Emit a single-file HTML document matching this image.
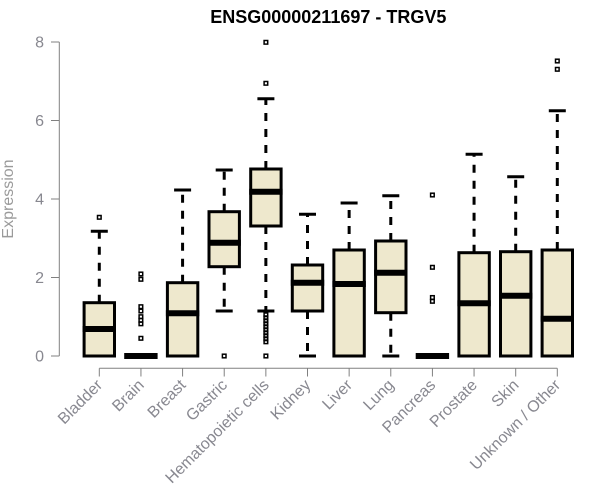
<!DOCTYPE html>
<html><head><meta charset="utf-8"><style>
html,body{margin:0;padding:0;background:#fff;}
svg{display:block;}
</style></head><body>
<svg width="600" height="500" viewBox="0 0 600 500" xmlns="http://www.w3.org/2000/svg" font-family="'Liberation Sans', Arial, sans-serif">
<rect width="600" height="500" fill="#fff"/>
<text x="328.3" y="23" text-anchor="middle" font-size="18" font-weight="bold" fill="#000">ENSG00000211697 - TRGV5</text>
<text transform="translate(13.2,199) rotate(-90)" text-anchor="middle" font-size="16" fill="#9a9a9a">Expression</text>
<g stroke="#808080" stroke-width="1" fill="none">
<line x1="59.3" y1="42" x2="59.3" y2="356"/>
<line x1="51" y1="42" x2="59.3" y2="42"/>
<line x1="51" y1="120.5" x2="59.3" y2="120.5"/>
<line x1="51" y1="199" x2="59.3" y2="199"/>
<line x1="51" y1="277.5" x2="59.3" y2="277.5"/>
<line x1="51" y1="356" x2="59.3" y2="356"/>
<line x1="99.3" y1="368.3" x2="557.3" y2="368.3"/>
<line x1="99.3" y1="368.3" x2="99.3" y2="376.5"/>
<line x1="140.94" y1="368.3" x2="140.94" y2="376.5"/>
<line x1="182.58" y1="368.3" x2="182.58" y2="376.5"/>
<line x1="224.22" y1="368.3" x2="224.22" y2="376.5"/>
<line x1="265.86" y1="368.3" x2="265.86" y2="376.5"/>
<line x1="307.5" y1="368.3" x2="307.5" y2="376.5"/>
<line x1="349.14" y1="368.3" x2="349.14" y2="376.5"/>
<line x1="390.78" y1="368.3" x2="390.78" y2="376.5"/>
<line x1="432.42" y1="368.3" x2="432.42" y2="376.5"/>
<line x1="474.06" y1="368.3" x2="474.06" y2="376.5"/>
<line x1="515.7" y1="368.3" x2="515.7" y2="376.5"/>
<line x1="557.3" y1="368.3" x2="557.3" y2="376.5"/>
</g>
<g font-size="16" fill="#888890" text-anchor="end">
<text x="44" y="47.5">8</text>
<text x="44" y="126">6</text>
<text x="44" y="204.5">4</text>
<text x="44" y="283">2</text>
<text x="44" y="361.5">0</text>
</g>
<g font-size="16" fill="#888890" text-anchor="end">
<text transform="translate(103.3,386) rotate(-45)">Bladder</text>
<text transform="translate(144.9,386) rotate(-45)">Brain</text>
<text transform="translate(186.6,386) rotate(-45)">Breast</text>
<text transform="translate(228.2,386) rotate(-45)">Gastric</text>
<text transform="translate(269.9,386) rotate(-45)">Hematopoietic cells</text>
<text transform="translate(311.5,386) rotate(-45)">Kidney</text>
<text transform="translate(353.1,386) rotate(-45)">Liver</text>
<text transform="translate(394.8,386) rotate(-45)">Lung</text>
<text transform="translate(436.4,386) rotate(-45)">Pancreas</text>
<text transform="translate(478.1,386) rotate(-45)">Prostate</text>
<text transform="translate(519.7,386) rotate(-45)">Skin</text>
<text transform="translate(561.3,386) rotate(-45)">Unknown / Other</text>
</g>

<!-- whiskers (dashed) -->
<g stroke="#000" stroke-width="3" stroke-dasharray="8 8" fill="none">
<line x1="99.3" y1="302.7" x2="99.3" y2="231.3"/>
<line x1="182.58" y1="282.7" x2="182.58" y2="190"/>
<line x1="224.22" y1="211.7" x2="224.22" y2="170"/>
<line x1="224.22" y1="266.7" x2="224.22" y2="311"/>
<line x1="265.86" y1="169" x2="265.86" y2="98.7"/>
<line x1="265.86" y1="226" x2="265.86" y2="311"/>
<line x1="307.5" y1="265" x2="307.5" y2="214.3"/>
<line x1="307.5" y1="311" x2="307.5" y2="356"/>
<line x1="349.14" y1="250" x2="349.14" y2="203"/>
<line x1="390.78" y1="241" x2="390.78" y2="195.7"/>
<line x1="390.78" y1="312.7" x2="390.78" y2="356"/>
<line x1="474.06" y1="252.7" x2="474.06" y2="154.3"/>
<line x1="515.7" y1="251.7" x2="515.7" y2="176.7"/>
<line x1="557.3" y1="250" x2="557.3" y2="110.7"/>
</g>
<!-- caps -->
<g stroke="#000" stroke-width="3" fill="none">
<line x1="90.8" y1="231.3" x2="107.8" y2="231.3"/>
<line x1="174.1" y1="190" x2="191.1" y2="190"/>
<line x1="215.7" y1="170" x2="232.7" y2="170"/>
<line x1="215.7" y1="311" x2="232.7" y2="311"/>
<line x1="257.4" y1="98.7" x2="274.4" y2="98.7"/>
<line x1="257.4" y1="311" x2="274.4" y2="311"/>
<line x1="299" y1="214.3" x2="316" y2="214.3"/>
<line x1="299" y1="356" x2="316" y2="356"/>
<line x1="340.6" y1="203" x2="357.6" y2="203"/>
<line x1="382.3" y1="195.7" x2="399.3" y2="195.7"/>
<line x1="382.3" y1="356" x2="399.3" y2="356"/>
<line x1="465.6" y1="154.3" x2="482.6" y2="154.3"/>
<line x1="507.2" y1="176.7" x2="524.2" y2="176.7"/>
<line x1="548.8" y1="110.7" x2="565.8" y2="110.7"/>
</g>
<!-- boxes -->
<g stroke="#000" stroke-width="3" fill="#EEE8CD">
<rect x="84.1" y="302.7" width="30.4" height="53.3"/>
<rect x="167.4" y="282.7" width="30.4" height="73.3"/>
<rect x="209" y="211.7" width="30.4" height="55"/>
<rect x="250.7" y="169" width="30.4" height="57"/>
<rect x="292.3" y="265" width="30.4" height="46"/>
<rect x="333.9" y="250" width="30.4" height="106"/>
<rect x="375.6" y="241" width="30.4" height="71.7"/>
<rect x="458.9" y="252.7" width="30.4" height="103.3"/>
<rect x="500.5" y="251.7" width="30.4" height="104.3"/>
<rect x="542.1" y="250" width="30.4" height="106"/>
</g>
<!-- medians -->
<g stroke="#000" stroke-width="6" fill="none">
<line x1="82.6" y1="329" x2="116" y2="329"/>
<line x1="124.2" y1="356" x2="157.6" y2="356"/>
<line x1="165.9" y1="313.3" x2="199.3" y2="313.3"/>
<line x1="207.5" y1="242.7" x2="240.9" y2="242.7"/>
<line x1="249.2" y1="191.7" x2="282.6" y2="191.7"/>
<line x1="290.8" y1="282.7" x2="324.2" y2="282.7"/>
<line x1="332.4" y1="284" x2="365.8" y2="284"/>
<line x1="374.1" y1="272.7" x2="407.5" y2="272.7"/>
<line x1="415.7" y1="356" x2="449.1" y2="356"/>
<line x1="457.4" y1="303.3" x2="490.8" y2="303.3"/>
<line x1="499" y1="295.7" x2="532.4" y2="295.7"/>
<line x1="540.6" y1="318.7" x2="574" y2="318.7"/>
</g>
<!-- outliers -->
<g stroke="#000" stroke-width="1.5" fill="none">
<rect x="97.5" y="215.5" width="3.6" height="3.6"/>
<rect x="139.1" y="272.2" width="3.6" height="3.6"/>
<rect x="139.1" y="277.5" width="3.6" height="3.6"/>
<rect x="139.1" y="304.9" width="3.6" height="3.6"/>
<rect x="139.1" y="309.2" width="3.6" height="3.6"/>
<rect x="139.1" y="314.9" width="3.6" height="3.6"/>
<rect x="139.1" y="318.5" width="3.6" height="3.6"/>
<rect x="139.1" y="322" width="3.6" height="3.6"/>
<rect x="139.1" y="336.5" width="3.6" height="3.6"/>
<rect x="222.4" y="354.2" width="3.6" height="3.6"/>
<rect x="264.1" y="40.5" width="3.6" height="3.6"/>
<rect x="264.1" y="81.5" width="3.6" height="3.6"/>
<rect x="264.1" y="313" width="3.6" height="3.6"/>
<rect x="264.1" y="316" width="3.6" height="3.6"/>
<rect x="264.1" y="319" width="3.6" height="3.6"/>
<rect x="264.1" y="322" width="3.6" height="3.6"/>
<rect x="264.1" y="325" width="3.6" height="3.6"/>
<rect x="264.1" y="328" width="3.6" height="3.6"/>
<rect x="264.1" y="331" width="3.6" height="3.6"/>
<rect x="264.1" y="334" width="3.6" height="3.6"/>
<rect x="264.1" y="337" width="3.6" height="3.6"/>
<rect x="264.1" y="340" width="3.6" height="3.6"/>
<rect x="264.1" y="354.2" width="3.6" height="3.6"/>
<rect x="430.6" y="193.2" width="3.6" height="3.6"/>
<rect x="430.6" y="265.5" width="3.6" height="3.6"/>
<rect x="430.6" y="295.7" width="3.6" height="3.6"/>
<rect x="430.6" y="299.5" width="3.6" height="3.6"/>
<rect x="555.5" y="59.2" width="3.6" height="3.6"/>
<rect x="555.5" y="67.5" width="3.6" height="3.6"/>
</g>
</svg>
</body></html>
